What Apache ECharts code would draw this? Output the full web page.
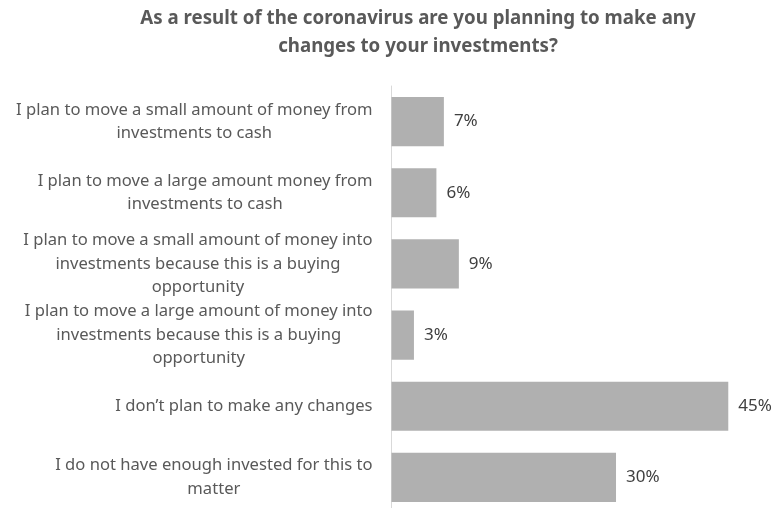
<!DOCTYPE html>
<html>
<head>
<meta charset="utf-8">
<script src="https://cdn.jsdelivr.net/npm/echarts@6/dist/echarts.min.js"></script>
<style>
  html, body { margin: 0; padding: 0; background: #ffffff; }
  #chart { width: 780px; height: 508px; }
</style>
</head>
<body>
<div id="chart"></div>
<script>
// Survey answers, top to bottom (line breaks as wrapped on the axis)
const categories = [
  'I plan to move a small amount of money from\ninvestments to cash',
  'I plan to move a large amount money from\ninvestments to cash',
  'I plan to move a small amount of money into\ninvestments because this is a buying\nopportunity',
  'I plan to move a large amount of money into\ninvestments because this is a buying\nopportunity',
  'I don\u2019t plan to make any changes',
  'I do not have enough invested for this to\nmatter'
];
// Share of respondents, percent
const shares = [7, 6, 9, 3, 45, 30];

const titleText = 'As a result of the coronavirus are you planning to make any\nchanges to your investments?';

const chart = echarts.init(document.getElementById('chart'), null, { renderer: 'canvas' });

chart.setOption({
  backgroundColor: '#ffffff',
  animation: false,
  title: {
    text: titleText,
    left: 418,
    top: 5,
    padding: 0,
    textAlign: 'center',
    textStyle: {
      fontFamily: 'Noto Sans',
      fontWeight: 'bold',
      fontSize: 18.7,
      lineHeight: 28,
      color: '#595959'
    }
  },
  grid: {
    left: 391.5,
    right: 14.3,
    top: 86,
    bottom: -5,
    containLabel: false,
    outerBoundsMode: 'none'
  },
  xAxis: {
    type: 'value',
    min: 0,
    max: 50,
    show: false
  },
  yAxis: {
    type: 'category',
    data: categories,
    inverse: true,
    axisTick: { show: false },
    splitLine: { show: false },
    axisLine: { show: true, lineStyle: { color: '#d9d9d9', width: 1 } },
    axisLabel: {
      margin: 19,
      align: 'right',
      fontFamily: 'Noto Sans',
      fontSize: 16.6,
      lineHeight: 23.5,
      color: '#595959',
      formatter: function (value) {
        return value.split('\n').map(function (line) { return '{c|' + line + '}'; }).join('\n');
      },
      rich: {
        c: {
          align: 'center',
          fontFamily: 'Noto Sans',
          fontSize: 16.6,
          lineHeight: 23.5,
          color: '#595959'
        }
      }
    }
  },
  series: [{
    type: 'bar',
    data: shares,
    barCategoryGap: '31%',
    itemStyle: { color: '#b0b0b0' },
    label: {
      show: true,
      position: 'right',
      distance: 10,
      formatter: '{c}%',
      fontFamily: 'Noto Sans',
      fontSize: 17,
      color: '#404040'
    }
  }]
});
</script>
</body>
</html>
